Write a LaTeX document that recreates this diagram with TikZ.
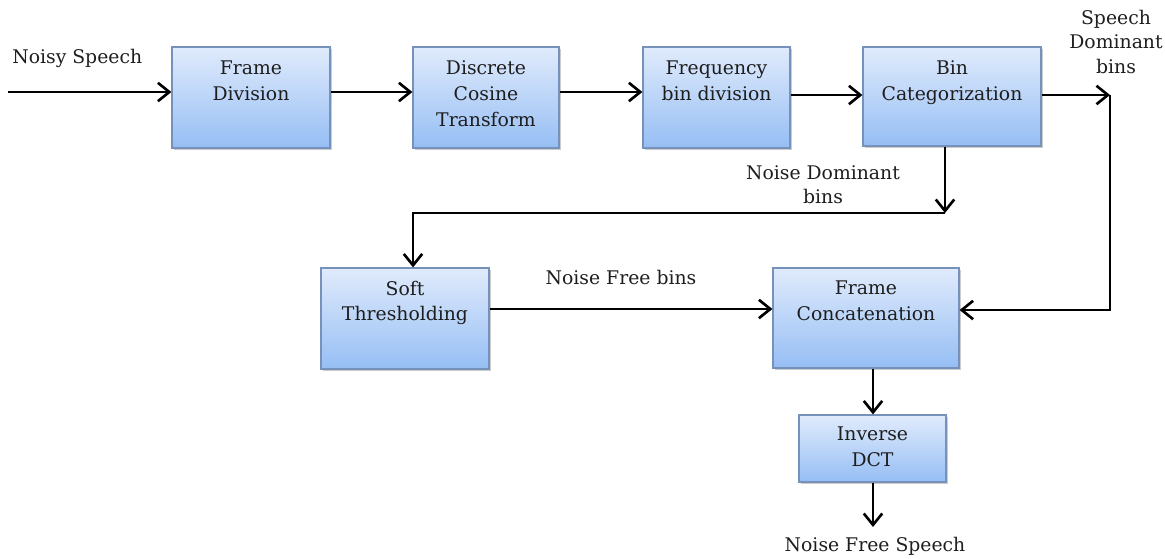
\documentclass[tikz,border=0pt]{standalone}
\usepackage{fontspec}
\setmainfont{DejaVu Serif}
\usetikzlibrary{arrows.meta,shadows,calc}
\definecolor{boxtop}{RGB}{224,235,252}
\definecolor{boxbot}{RGB}{150,190,244}
\definecolor{boxline}{RGB}{118,146,186}
\definecolor{ink}{RGB}{30,30,30}
\begin{document}
\begin{tikzpicture}[x=0.02cm,y=-0.02cm,
  blk/.style={rectangle, draw=boxline, line width=0.7pt, top color=boxtop, bottom color=boxbot,
    drop shadow={shadow xshift=1.2pt, shadow yshift=-1.4pt, fill=black!45, opacity=0.45}, inner sep=0pt},
  txt/.style={font=\fontsize{10.7pt}{14.7pt}\selectfont, align=center, inner sep=0pt, text=ink},
  arr/.style={line width=1.5pt, draw=black, -{Straight Barb[length=6.5pt,width=10.5pt,line width=1.5pt]}}]
\useasboundingbox (0,0) rectangle (1165,558);
% boxes
\node[blk, minimum width=3.16cm, minimum height=2.02cm] (fd) at (251,97.5) {};
\node[blk, minimum width=2.92cm, minimum height=2.02cm] (dct) at (486,97.5) {};
\node[blk, minimum width=2.94cm, minimum height=2.02cm] (fq) at (716.5,97.5) {};
\node[blk, minimum width=3.56cm, minimum height=1.98cm] (bc) at (952,96.5) {};
\node[blk, minimum width=3.36cm, minimum height=2.02cm] (st) at (405,318.5) {};
\node[blk, minimum width=3.72cm, minimum height=2.00cm] (fc) at (866,318) {};
\node[blk, minimum width=2.94cm, minimum height=1.34cm] (id) at (872.5,448.5) {};
% box texts
\node[txt, anchor=north] (fdt) at ($(fd.north)+(0,14)$) {Frame\\Division};
\node[txt, anchor=north] (dctt) at ($(dct.north)+(0,14)$) {Discrete\\Cosine\\Transform};
\node[txt, anchor=north] (fqt) at ($(fq.north)+(0,14)$) {Frequency\\bin division};
\node[txt, anchor=north] (bct) at ($(bc.north)+(0,14)$) {Bin\\Categorization};
\node[txt, anchor=north] (stt) at ($(st.north)+(0,13)$) {Soft\\Thresholding};
\node[txt, anchor=north] (fct) at ($(fc.north)+(0,13)$) {Frame\\Concatenation};
\node[txt, anchor=north] (idt) at ($(id.north)+(0,12)$) {Inverse\\DCT};
% labels
\node[txt, anchor=base west] (lin) at (12,63) {Noisy Speech};
\node[txt, anchor=north, font=\fontsize{10.7pt}{13.8pt}\selectfont] (lsd) at (1116,10) {Speech\\Dominant\\bins};
\node[txt, anchor=north, font=\fontsize{10.7pt}{13.6pt}\selectfont] (lnd) at (823,165) {Noise Dominant\\bins};
\node[txt, anchor=base] (lnf) at (621,284) {Noise Free bins};
\node[txt, anchor=base] (lout) at (875,551) {Noise Free Speech};
% coordinates
\coordinate (in) at (8,92);
\coordinate (r1) at (0,95);
\coordinate (sd) at (1110,95);
\coordinate (c2) at (1110,310);
\coordinate (nd) at (945,213);
\coordinate (nl) at (413,213);
\coordinate (nf) at (0,309);
\coordinate (v) at (873,0);
\coordinate (out) at (873,527);
% connectors
\draw[arr] (in) -- (in -| fd.west);
\draw[arr] (fd.east |- in) -- (dct.west |- in);
\draw[arr] (dct.east |- in) -- (fq.west |- in);
\draw[arr] (fq.east |- r1) -- (bc.west |- r1);
\draw[arr] (bc.east |- sd) -- (sd);
\draw[arr] (sd) -- (c2) -- (c2 -| fc.east);
\draw[arr] (bc.south -| nd) -- (nd);
\draw[arr] (nd) -- (nl) -- (nl |- st.north);
\draw[arr] (st.east |- nf) -- (fc.west |- nf);
\draw[arr] (fc.south -| v) -- (id.north -| v);
\draw[arr] (id.south -| out) -- (out);
\end{tikzpicture}
\end{document}
